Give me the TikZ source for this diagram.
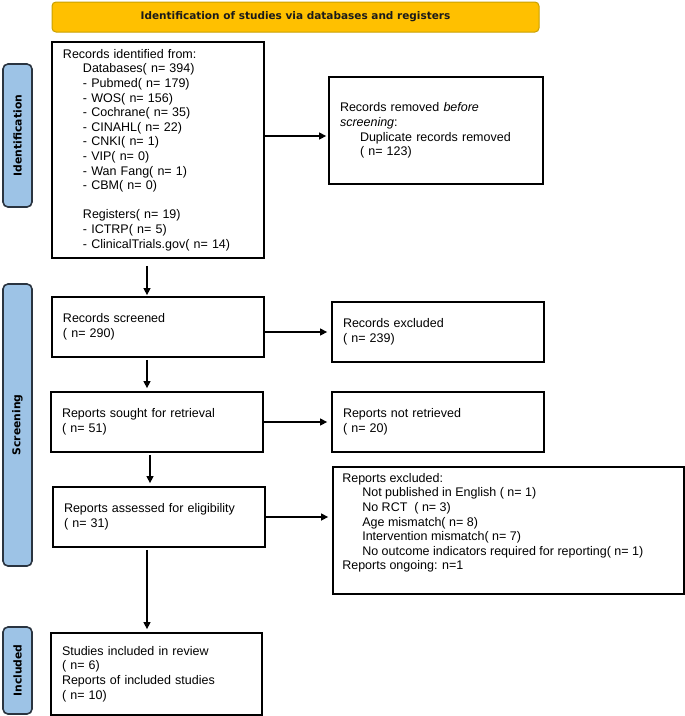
\documentclass[tikz,border=0pt]{standalone}
\usepackage{fontspec}
\setmainfont{Liberation Sans}
\newfontfamily\djb{DejaVu Sans}
\usetikzlibrary{arrows.meta,calc}
\definecolor{ttlfill}{HTML}{FFC000}
\definecolor{ttldraw}{HTML}{C9A100}
\definecolor{ttltext}{HTML}{1A1A1A}
\definecolor{sidefill}{HTML}{9DC3E6}
\definecolor{sidedraw}{HTML}{2A3440}
\newcommand\myind{\hspace*{20pt}}
\begin{document}
\begin{tikzpicture}[x=1pt,y=-1pt,
  box/.style={draw=black, line width=1.8pt, rectangle, align=left, inner xsep=11pt, inner ysep=0pt,
    font=\fontsize{12.5}{14.6}\selectfont},
  txt/.style={align=left, inner sep=0pt, font=\fontsize{12.5}{14.6}\selectfont},
  side/.style={draw=sidedraw, fill=sidefill, line width=1.6pt, rounded corners=5pt, rotate=90,
    minimum height=29pt, inner sep=0pt, font=\djb\bfseries\fontsize{10.8}{12}\selectfont},
  ttlbox/.style={draw=ttldraw, fill=ttlfill, line width=1pt, rounded corners=4pt, inner sep=0pt,
    text=ttltext, font=\djb\bfseries\fontsize{10.5}{12}\selectfont},
  arr/.style={line width=1.4pt, -{Triangle[length=7pt,width=7pt]}}]
\useasboundingbox (0,0) rectangle (685,716);

% title
\node[ttlbox, minimum width=487pt, minimum height=30pt] (ttl) at (295.5,17) {Identification of studies via databases and registers};

% side labels
\node[side, minimum width=143pt] (sid1) at (17.5,135.5) {Identification};
\node[side, minimum width=282pt] (sid2) at (17.5,425) {Screening};
\node[side, minimum width=87pt] (sid3) at (17.5,670.5) {Included};

% boxes
\node[box, text width=190pt, minimum height=216pt] (rid) at (158,150) {Records identified from:\\
\myind Databases( n= 394)\\
\myind - Pubmed( n= 179)\\
\myind - WOS( n= 156)\\
\myind - Cochrane( n= 35)\\
\myind - CINAHL( n= 22)\\
\myind - CNKI( n= 1)\\
\myind - VIP( n= 0)\\
\myind - Wan Fang( n= 1)\\
\myind - CBM( n= 0)\\[14.6pt]
\myind Registers( n= 19)\\
\myind - ICTRP( n= 5)\\
\myind - ClinicalTrials.gov( n= 14)};

\node[box, text width=192pt, minimum height=107pt] (rem) at (436,130.5) {Records removed \textit{before}\\
\textit{screening}:\\
\myind Duplicate records removed\\
\myind ( n= 123)};

\node[box, text width=190pt, minimum height=60pt] (scr) at (158,327) {Records screened\\( n= 290)};
\node[box, text width=190pt, minimum height=60pt] (exc) at (438,332) {Records excluded\\( n= 239)};

\node[box, text width=190pt, minimum height=60pt] (sou) at (157,422) {Reports sought for retrieval\\( n= 51)};
\node[box, text width=190pt, minimum height=60pt] (nret) at (438,422) {Reports not retrieved\\( n= 20)};

\node[box, text width=190pt, minimum height=60pt] (ass) at (159,517) {Reports assessed for eligibility\\( n= 31)};

\node[box, minimum width=351pt, minimum height=127pt] (rex) at (508.5,530.5) {};
\node[txt, anchor=north west] (rext) at ($(rex.north west)+(10,7)$) {Reports excluded:\\
\myind Not published in English ( n= 1)\\
\myind No RCT \ ( n= 3)\\
\myind Age mismatch( n= 8)\\
\myind Intervention mismatch( n= 7)\\
\myind No outcome indicators required for reporting( n= 1)\\
Reports ongoing: n=1};

\node[box, text width=189pt, minimum height=82pt] (stu) at (156.5,674) {Studies included in review\\( n= 6)\\Reports of included studies\\( n= 10)};

% arrows
\draw[arr] ($(rid.east |- rem.west)+(0,5.5)$) -- ($(rem.west)+(-2,5.5)$);
\draw[arr] ($(rid.south)+(-11,7)$) -- ($(scr.north)+(-11,-1)$);
\draw[arr] (scr.east |- exc.west) -- ($(exc.west)+(-4,0)$);
\draw[arr] ($(scr.south)+(-11,2)$) -- ($(sou.north)+(-10,-3)$);
\draw[arr] (sou.east |- nret.west) -- ($(nret.west)+(-4,0)$);
\draw[arr] ($(sou.south)+(-7,2)$) -- ($(ass.north)+(-9,-3)$);
\draw[arr] (ass.east) -- ($(ass.east -| rex.west)+(-4,0)$);
\draw[arr] ($(ass.south)+(-12,2)$) -- ($(stu.north)+(-9.5,-3)$);
\end{tikzpicture}
\end{document}
